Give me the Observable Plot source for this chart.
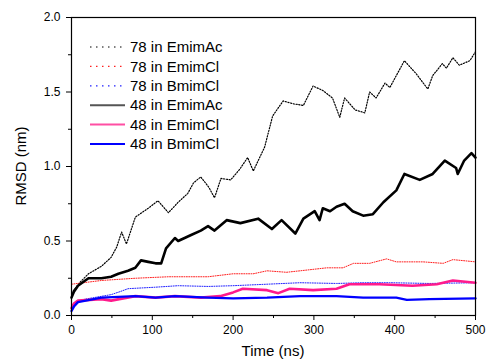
<!DOCTYPE html>
<html>
<head>
<meta charset="utf-8">
<script src="https://cdn.jsdelivr.net/npm/d3@7"></script>
<script src="https://cdn.jsdelivr.net/npm/@observablehq/plot@0.6"></script>
<style>
  html, body { margin: 0; padding: 0; background: #fff; }
  #chart { width: 486px; height: 362px; }
</style>
</head>
<body>
<div id="chart"></div>
<script>
// ---- data ----
const xTicks = [0, 100, 200, 300, 400, 500];
const xMinorTicks = [50, 150, 250, 350, 450];
const yTicks = [0, 0.5, 1.0, 1.5, 2.0];
const yMinorTicks = [0.25, 0.75, 1.25, 1.75];

const seriesNames = ["78 in EmimAc", "78 in EmimCl", "78 in BmimCl", "48 in EmimAc", "48 in EmimCl", "48 in BmimCl"];

// 78 in EmimAc (black dotted)
const t78Ac = [0, 10, 21, 37, 49, 56, 62, 68, 79, 95, 107, 120, 132, 144, 151, 160, 170, 177, 185, 197, 208, 218, 225, 239, 249, 262, 275, 287, 299, 311, 323, 332, 338, 351, 363, 369, 377, 388, 394, 412, 427, 441, 447, 459, 464, 472, 480, 493, 500];
const v78Ac = [0.15, 0.22, 0.28, 0.33, 0.39, 0.46, 0.56, 0.48, 0.66, 0.72, 0.77, 0.69, 0.76, 0.82, 0.89, 0.93, 0.86, 0.79, 0.92, 0.91, 0.98, 1.06, 0.97, 1.13, 1.34, 1.44, 1.42, 1.41, 1.54, 1.51, 1.46, 1.33, 1.46, 1.38, 1.36, 1.50, 1.46, 1.56, 1.53, 1.71, 1.62, 1.52, 1.61, 1.69, 1.66, 1.73, 1.68, 1.71, 1.77];

// 78 in EmimCl (red dotted)
const t78Cl = [0, 37, 79, 120, 169, 200, 225, 242, 266, 283, 316, 336, 349, 369, 390, 402, 435, 460, 472, 500];
const v78Cl = [0.21, 0.235, 0.25, 0.26, 0.26, 0.28, 0.28, 0.30, 0.29, 0.30, 0.32, 0.32, 0.35, 0.35, 0.38, 0.36, 0.36, 0.35, 0.375, 0.36];

// 78 in BmimCl (blue dotted)
const t78Bm = [0, 5, 17, 49, 60, 70, 104, 132, 169, 200, 242, 283, 328, 361, 394, 443, 500];
const v78Bm = [0.06, 0.09, 0.11, 0.14, 0.16, 0.18, 0.19, 0.20, 0.195, 0.20, 0.21, 0.22, 0.215, 0.22, 0.22, 0.215, 0.22];

// 48 in EmimAc (black solid)
const t48Ac = [0, 3, 8, 21, 37, 49, 58, 70, 79, 86, 95, 104, 111, 117, 128, 132, 148, 160, 169, 177, 192, 209, 231, 248, 260, 277, 287, 301, 307, 311, 320, 328, 338, 348, 361, 373, 386, 402, 412, 431, 447, 462, 476, 478, 486, 495, 500];
const v48Ac = [0.12, 0.16, 0.20, 0.25, 0.25, 0.26, 0.28, 0.30, 0.32, 0.37, 0.36, 0.35, 0.35, 0.45, 0.52, 0.50, 0.54, 0.57, 0.60, 0.57, 0.64, 0.62, 0.65, 0.58, 0.64, 0.55, 0.65, 0.70, 0.64, 0.72, 0.70, 0.73, 0.75, 0.70, 0.67, 0.68, 0.76, 0.84, 0.95, 0.91, 0.95, 1.04, 0.99, 0.95, 1.04, 1.09, 1.06];

// 48 in EmimCl (pink solid)
const t48Cl = [0, 3, 8, 37, 49, 79, 104, 128, 160, 184, 200, 212, 242, 256, 270, 299, 328, 344, 381, 422, 452, 472, 500];
const v48Cl = [0.05, 0.08, 0.10, 0.11, 0.10, 0.13, 0.12, 0.13, 0.12, 0.13, 0.155, 0.18, 0.17, 0.15, 0.18, 0.17, 0.18, 0.21, 0.21, 0.20, 0.21, 0.235, 0.22];

// 48 in BmimCl (blue solid)
const t48Bm = [0, 3, 8, 37, 79, 104, 128, 169, 200, 242, 283, 328, 361, 402, 415, 443, 500];
const v48Bm = [0.03, 0.06, 0.09, 0.12, 0.13, 0.12, 0.13, 0.12, 0.115, 0.12, 0.13, 0.13, 0.12, 0.12, 0.105, 0.11, 0.115];

// ---- styles ----
const styles = [
  {stroke: "#000000", strokeWidth: 1.2, dash: "1.2,1.6", legendDash: "1.5,4.5", legendWidth: 1.2},
  {stroke: "#ff2020", strokeWidth: 1, dash: "1,1.4", legendDash: "1.5,4.5", legendWidth: 1.2},
  {stroke: "#2020ff", strokeWidth: 1, dash: "1,1.4", legendDash: "1.5,4.5", legendWidth: 1.2},
  {stroke: "#000000", strokeWidth: 2.6, dash: null, legendDash: null, legendWidth: 2, legendStroke: "#555"},
  {stroke: "#ff1a8c", strokeWidth: 2.6, dash: null, legendDash: null, legendWidth: 2, legendStroke: "#ff4fa3"},
  {stroke: "#0000ff", strokeWidth: 2.4, dash: null, legendDash: null, legendWidth: 2}
];

const pairs = [[t78Ac, v78Ac], [t78Cl, v78Cl], [t78Bm, v78Bm], [t48Ac, v48Ac], [t48Cl, v48Cl], [t48Bm, v48Bm]];
const tables = pairs.map(([t, v]) => t.map((ti, i) => ({t: ti, v: v[i]})));

const font = "Liberation Sans, Arial, Helvetica, sans-serif";

const plot = Plot.plot({
  width: 486,
  height: 362,
  marginLeft: 71,
  marginRight: 11,
  marginTop: 17,
  marginBottom: 47,
  x: {domain: [0, 500]},
  y: {domain: [0, 2]},
  style: {fontFamily: font, fontSize: "12px", color: "#000", background: "#fff"},
  marks: [
    ...tables.map((d, i) => Plot.line(d, {
      x: "t", y: "v",
      stroke: styles[i].stroke,
      strokeWidth: styles[i].strokeWidth,
      strokeDasharray: styles[i].dash || undefined,
      strokeLinejoin: "round"
    })),
    Plot.frame({stroke: "#000", strokeWidth: 1.2}),
    Plot.axisX({ticks: xTicks, tickSize: 5, tickPadding: 5, tickFormat: d => String(d), label: null, fontSize: 12, stroke: "#000"}),
    Plot.axisX({ticks: xMinorTicks, tickSize: 3, tickFormat: () => "", label: null, stroke: "#000"}),
    Plot.axisY({ticks: yTicks, tickSize: 5, tickPadding: 6, tickFormat: d3.format(".1f"), label: null, fontSize: 12, stroke: "#000"}),
    Plot.axisY({ticks: yMinorTicks, tickSize: 3, tickFormat: () => "", label: null, stroke: "#000"})
  ]
});

document.getElementById("chart").appendChild(plot);

// axis titles and legend (layout in pixels)
const svg = d3.select(plot);
svg.append("text")
  .attr("x", 273).attr("y", 356)
  .attr("text-anchor", "middle")
  .attr("font-family", font).attr("font-size", 15).attr("fill", "#000")
  .text("Time (ns)");
svg.append("text")
  .attr("transform", "translate(26,166) rotate(-90)")
  .attr("text-anchor", "middle")
  .attr("font-family", font).attr("font-size", 15).attr("fill", "#000")
  .text("RMSD (nm)");

const legend = svg.append("g").attr("text-anchor", "start");
const rowY0 = 47, rowStep = 19.4;
seriesNames.forEach((name, i) => {
  const y = rowY0 + i * rowStep;
  const s = styles[i];
  legend.append("line")
    .attr("x1", 90).attr("x2", 125).attr("y1", y).attr("y2", y)
    .attr("stroke", s.legendStroke || s.stroke)
    .attr("stroke-width", s.legendWidth)
    .attr("stroke-dasharray", s.legendDash);
  legend.append("text")
    .attr("x", 130).attr("y", y)
    .attr("dy", "0.35em")
    .attr("text-anchor", "start")
    .attr("font-family", font).attr("font-size", 15).attr("fill", "#000")
    .text(name);
});
</script>
</body>
</html>
